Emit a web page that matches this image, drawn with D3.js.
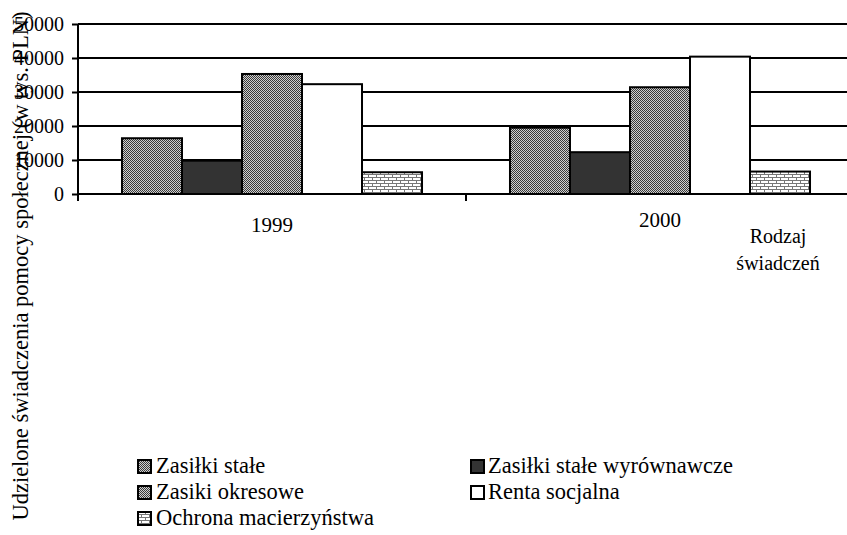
<!DOCTYPE html>
<html><head><meta charset="utf-8">
<script src="https://cdn.jsdelivr.net/npm/d3@7"></script>
<style>body{margin:0;background:#fff}svg{display:block}text{font-family:"Liberation Serif","Tinos","Times New Roman","DejaVu Serif","Noto Serif",serif !important;fill:#000}</style>
</head><body><svg id="c" width="847" height="535"></svg>
<script>
const years = ["1999", "2000"];
const seriesNames = ["Zasiłki stałe", "Zasiłki stałe wyrównawcze", "Zasiki okresowe", "Renta socjalna", "Ochrona macierzyństwa"];
const zasilkiStale = [16400, 19500];
const zasilkiWyrownawcze = [9800, 12300];
const zasilkiOkresowe = [35300, 31400];
const rentaSocjalna = [32300, 40400];
const ochronaMacierzynstwa = [6400, 6600];
const yTicks = [0, 10000, 20000, 30000, 40000, 50000];
const yTitle = "Udzielone świadczenia pomocy społecznej (w tys. PLN)";
const xTitle = ["Rodzaj", "świadczeń"];

const values = [zasilkiStale, zasilkiWyrownawcze, zasilkiOkresowe, rentaSocjalna, ochronaMacierzynstwa];
const fills = ["url(#pDots)", "#333333", "url(#pDots)", "#ffffff", "url(#pBrick)"];

const svg = d3.select("#c");
const defs = svg.append("defs");
const pd = defs.append("pattern").attr("id","pDots").attr("width",2).attr("height",2).attr("patternUnits","userSpaceOnUse");
pd.append("rect").attr("width",2).attr("height",2).attr("fill","#d0d0d0");
pd.append("rect").attr("x",0).attr("y",0).attr("width",1).attr("height",1).attr("fill","#3a3a3a");
pd.append("rect").attr("x",1).attr("y",1).attr("width",1).attr("height",1).attr("fill","#3a3a3a");
const pb = defs.append("pattern").attr("id","pBrick").attr("width",8).attr("height",6).attr("patternUnits","userSpaceOnUse");
pb.append("rect").attr("width",8).attr("height",6).attr("fill","#fff");
pb.append("rect").attr("x",0).attr("y",0).attr("width",8).attr("height",1).attr("fill","#777");
pb.append("rect").attr("x",0).attr("y",3).attr("width",8).attr("height",1).attr("fill","#777");
pb.append("rect").attr("x",0).attr("y",0).attr("width",1).attr("height",3).attr("fill","#777");
pb.append("rect").attr("x",4).attr("y",3).attr("width",1).attr("height",3).attr("fill","#777");

const pLeft = 78, pRight = 854, pTop = 24, pBase = 194;
const x0 = d3.scaleBand().domain(years).range([pLeft, pRight]).padding(0);
const x1 = d3.scaleBand().domain(d3.range(seriesNames.length)).range([0, x0.bandwidth()]).paddingInner(0).paddingOuter(0.733);
const y = d3.scaleLinear().domain([0, 50000]).range([pBase, pTop]);

// gridlines
svg.append("g").selectAll("line").data(yTicks.slice(1)).join("line")
  .attr("x1", pLeft).attr("x2", 847).attr("y1", d=>y(d)).attr("y2", d=>y(d))
  .attr("stroke","#000").attr("stroke-width",2);

// bars
years.forEach((yr, i) => {
  svg.append("g").selectAll("rect").data(values.map((v, s) => ({s, v: v[i]}))).join("rect")
    .attr("x", d => x0(yr) + x1(d.s)).attr("width", x1.bandwidth())
    .attr("y", d => y(d.v)).attr("height", d => pBase - y(d.v))
    .attr("fill", d => fills[d.s]).attr("stroke","#000").attr("stroke-width",2);
});

// y axis
const ya = svg.append("g").attr("transform",`translate(${pLeft},0)`)
  .call(d3.axisLeft(y).tickValues(yTicks).tickFormat(d3.format("d")).tickSize(6).tickPadding(8));
ya.attr("font-family", null);
ya.select(".domain").remove();
ya.selectAll(".tick line").attr("stroke","#000").attr("stroke-width",2);
ya.selectAll(".tick text").attr("font-size","20px").attr("fill","#000");
svg.append("line").attr("x1",pLeft).attr("x2",pLeft).attr("y1",pTop).attr("y2",pBase+7).attr("stroke","#000").attr("stroke-width",2);

// x axis baseline and ticks
svg.append("line").attr("x1",pLeft).attr("x2",847).attr("y1",pBase).attr("y2",pBase).attr("stroke","#000").attr("stroke-width",2);
svg.append("g").selectAll("line").data(years.slice(1)).join("line")
  .attr("x1", d=>x0(d)).attr("x2", d=>x0(d)).attr("y1", pBase).attr("y2", pBase+7)
  .attr("stroke","#000").attr("stroke-width",2);
const labelY = [232, 227];
svg.append("g").selectAll("text").data(years).join("text")
  .attr("x", d => x0(d) + x0.bandwidth()/2).attr("y", (d,i) => labelY[i])
  .attr("text-anchor","middle").attr("font-size","21px").text(d => d);

// axis titles
svg.append("text").attr("transform","translate(28,266) rotate(-90)").attr("text-anchor","middle")
  .attr("font-size","22.5px").text(yTitle);
svg.append("g").selectAll("text").data(xTitle).join("text")
  .attr("x", 778).attr("y", (d,i) => 243 + i*27).attr("text-anchor","middle").attr("font-size","20px").text(d=>d);

// legend
const legPos = [[137,459],[470,459],[137,485],[470,485],[137,511]];
const lg = svg.append("g").selectAll("g").data(seriesNames).join("g")
  .attr("transform",(d,i)=>`translate(${legPos[i][0]},${legPos[i][1]})`);
lg.append("rect").attr("x",1).attr("y",1).attr("width",13).attr("height",13)
  .attr("fill",(d,i)=>fills[i]).attr("stroke","#000").attr("stroke-width",2);
lg.append("text").attr("x",(d,i)=> i%2 ? 18 : 19).attr("y",14).attr("font-size","22.5px").text(d=>d);
</script></body></html>
